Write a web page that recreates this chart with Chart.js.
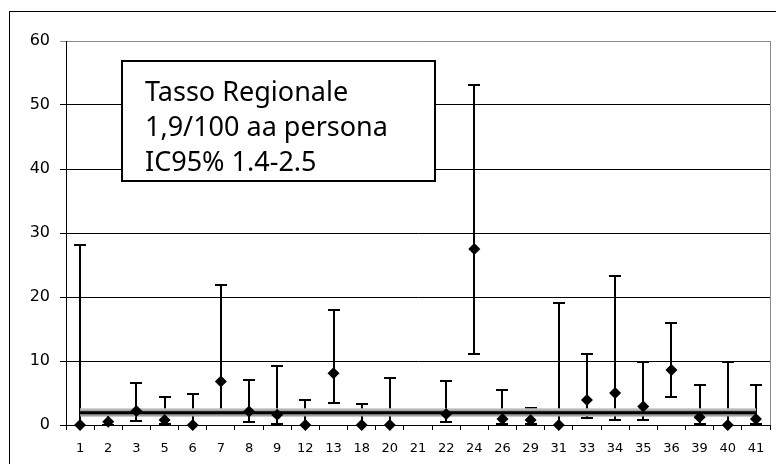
<!DOCTYPE html>
<html>
<head>
<meta charset="utf-8">
<script src="https://cdn.jsdelivr.net/npm/chart.js@4/dist/chart.umd.min.js"></script>
<style>
  html, body { margin: 0; padding: 0; background: #fff; }
  #wrap { width: 776px; height: 464px; position: relative; }
</style>
</head>
<body>
<div id="wrap"><canvas id="c" width="776" height="464"></canvas></div>
<script>
// ---- Data ----
const categories = ['1','2','3','5','6','7','8','9','12','13','18','20','21','22','24','26','29','31','33','34','35','36','39','40','41'];
const rate  = [0, 0.5, 2.2, 0.8, 0, 6.8, 2.1, 1.6, 0, 8.1, 0, 0, null, 1.7, 27.5, 0.95, 0.8, 0, 3.9, 5.0, 2.9, 8.6, 1.2, 0, 0.95];
const lower = [0, 0.05, 0.7, 0.15, 0, 2.2, 0.5, 0.15, 0, 3.5, 0, 0, null, 0.5, 11.1, 0.1, 0.1, 0, 1.1, 0.8, 0.8, 4.3, 0.15, 0, 0.15];
const upper = [28.2, 1.6, 6.6, 4.3, 4.9, 21.9, 7.1, 9.2, 3.9, 17.9, 3.3, 7.3, null, 6.8, 53.1, 5.4, 2.6, 19.1, 11.1, 23.3, 9.9, 16.0, 6.25, 9.9, 6.25];
const regionalRate = 1.9;
const regionalLow = 1.4;
const regionalHigh = 2.5;
const yTicks = [0, 10, 20, 30, 40, 50, 60];
const boxLines = ['Tasso Regionale', '1,9/100 aa persona', 'IC95% 1.4-2.5'];

const FONT = "'Noto Sans', 'DejaVu Sans', sans-serif";
const TICKFONT = "'DejaVu Sans', sans-serif";

const frame = {
  id: 'frame',
  beforeDraw(chart) {
    const ctx = chart.ctx;
    ctx.save();
    ctx.fillStyle = '#fff';
    ctx.fillRect(0, 0, chart.width, chart.height);
    ctx.strokeStyle = '#000';
    ctx.lineWidth = 1;
    ctx.strokeRect(9.5, 11.5, chart.width + 20, chart.height + 20);
    ctx.restore();
  },
  afterDraw(chart) {
    const ctx = chart.ctx, a = chart.chartArea;
    ctx.save();
    ctx.strokeStyle = '#8a8a8a';
    ctx.lineWidth = 1;
    ctx.beginPath();
    ctx.moveTo(Math.round(a.right) + 0.5, a.top);
    ctx.lineTo(Math.round(a.right) + 0.5, a.bottom);
    ctx.stroke();
    // annotation box
    const bx = 122, by = 61, bw = 313, bh = 120;
    ctx.fillStyle = '#fff';
    ctx.fillRect(bx, by, bw, bh);
    ctx.strokeStyle = '#000';
    ctx.lineWidth = 2;
    ctx.strokeRect(bx, by, bw, bh);
    ctx.fillStyle = '#000';
    ctx.font = '27px ' + FONT;
    ctx.textBaseline = 'alphabetic';
    ctx.textAlign = 'left';
    boxLines.forEach((t, i) => ctx.fillText(t, 145, 101 + i * 35));
    ctx.restore();
  }
};

const errorBars = {
  id: 'errorBars',
  beforeDatasetsDraw(chart) {
    const ctx = chart.ctx;
    const xs = chart.scales.x, ys = chart.scales.y;
    ctx.save();
    ctx.strokeStyle = '#000';
    ctx.lineWidth = 2;
    const cap = 6;
    categories.forEach((c, i) => {
      if (upper[i] == null) return;
      const x = Math.round(xs.getPixelForValue(i));
      const yh = Math.round(ys.getPixelForValue(upper[i]));
      const yl = Math.round(ys.getPixelForValue(lower[i]));
      ctx.beginPath();
      ctx.moveTo(x, yl);
      ctx.lineTo(x, yh);
      ctx.moveTo(x - cap, yh);
      ctx.lineTo(x + cap, yh);
      if (lower[i] > 0) {
        ctx.moveTo(x - cap, yl);
        ctx.lineTo(x + cap, yl);
      }
      ctx.stroke();
    });
    ctx.restore();
  }
};

new Chart(document.getElementById('c'), {
  type: 'line',
  data: {
    labels: categories,
    datasets: [
      {
        label: 'IC low',
        data: categories.map(() => regionalLow),
        borderColor: '#9a9a9a',
        borderWidth: 1,
        pointRadius: 0,
        fill: false,
        order: 4
      },
      {
        label: 'IC high',
        data: categories.map(() => regionalHigh),
        borderColor: '#c4c4c4',
        borderWidth: 1.5,
        backgroundColor: '#a0a0a0',
        pointRadius: 0,
        fill: '-1',
        order: 3
      },
      {
        label: 'Tasso regionale',
        data: categories.map(() => regionalRate),
        borderColor: '#000',
        borderWidth: 3,
        pointRadius: 0,
        fill: false,
        order: 2
      },
      {
        label: 'Tasso',
        data: rate,
        showLine: false,
        pointStyle: 'rectRot',
        pointRadius: 6,
        pointBackgroundColor: '#000',
        pointBorderColor: '#000',
        pointBorderWidth: 0,
        clip: false,
        order: 1
      }
    ]
  },
  options: {
    responsive: false,
    animation: false,
    devicePixelRatio: 1,
    layout: { padding: { left: 0, right: 6, top: 41, bottom: 0 } },
    plugins: { legend: { display: false }, tooltip: { enabled: false } },
    scales: {
      x: {
        offset: true,
        afterFit(s) { s.height = 39; },
        grid: { offset: true, drawOnChartArea: false, drawTicks: true, tickLength: 5, color: '#000' },
        border: { display: true, color: '#000', width: 1 },
        ticks: { color: '#000', font: { family: TICKFONT, size: 13 }, padding: 11, maxRotation: 0, autoSkip: false }
      },
      y: {
        min: 0, max: 60,
        afterFit(s) { s.width = 66; },
        afterBuildTicks(s) { s.ticks = yTicks.map(v => ({ value: v })); },
        grid: {
          color: (c) => (c.tick && c.tick.value === 60) ? '#8a8a8a' : '#000',
          lineWidth: 1,
          drawTicks: true,
          tickLength: 6
        },
        border: { display: true, color: '#000', width: 1 },
        ticks: { color: '#000', font: { family: TICKFONT, size: 16 }, padding: 10 }
      }
    }
  },
  plugins: [frame, errorBars]
});
</script>
</body>
</html>
